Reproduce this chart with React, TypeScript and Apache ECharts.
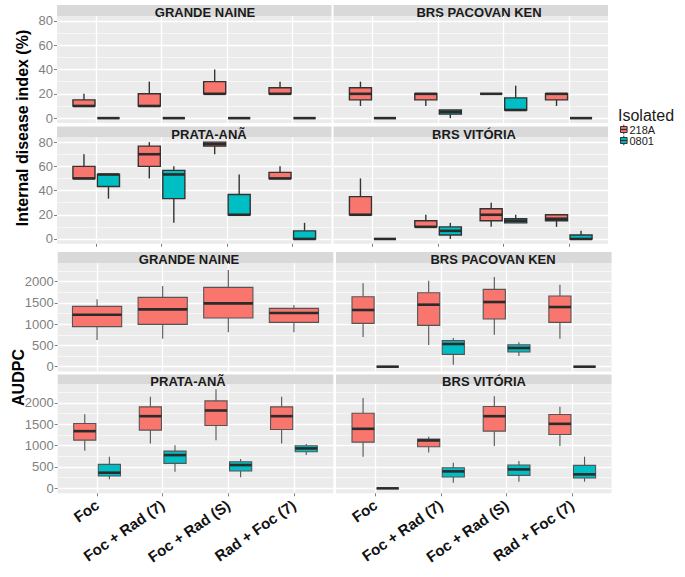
import React, { useEffect, useRef } from 'react';
import * as echarts from 'echarts';

// ---------- data ----------
const treatments = ['Foc', 'Foc + Rad (7)', 'Foc + Rad (S)', 'Rad + Foc (7)'];
const cultivars = ['GRANDE NAINE', 'BRS PACOVAN KEN', 'PRATA-ANÃ', 'BRS VITÓRIA'];
const isolates = ['218A', '0801'];
const idiTicks = [0, 20, 40, 60, 80];
const audpcTicks = [0, 500, 1000, 1500, 2000];

// Internal disease index (%): [min, Q1, median, Q3, max] per treatment
const idiGrandeNaine218A = [[10, 10, 10, 15, 20], [10, 10, 10, 20, 30], [20, 20, 20, 30, 40], [20, 20, 20, 25, 30]];
const idiGrandeNaine0801 = [[0, 0, 0, 0, 0], [0, 0, 0, 0, 0], [0, 0, 0, 0, 0], [0, 0, 0, 0, 0]];
const idiPacovan218A = [[10, 15, 20, 25, 30], [10, 15, 20, 20, 20], [20, 20, 20, 20, 20], [10, 15, 20, 20, 20]];
const idiPacovan0801 = [[0, 0, 0, 0, 0], [0, 3.3, 5, 6.7, 6.7], [6.7, 6.7, 6.7, 16.7, 26.7], [0, 0, 0, 0, 0]];
const idiPrata218A = [[50, 50, 50, 60, 70], [50, 60, 70, 76.7, 80], [70, 76.7, 78.3, 80, 80], [50, 50, 50, 55, 60]];
const idiPrata0801 = [[33.3, 43.3, 53.3, 53.3, 53.3], [13.3, 33.3, 53.3, 56.7, 60], [20, 20, 20, 36.7, 53.3], [0, 0, 0, 6.7, 13.3]];
const idiVitoria218A = [[20, 20, 20, 35, 50], [10, 10, 10, 15, 20], [10, 15, 20, 25, 30], [10, 15, 16.7, 20, 20]];
const idiVitoria0801 = [[0, 0, 0, 0, 0], [0, 3.3, 6.7, 10, 13.3], [13.3, 13.3, 15, 16.7, 20], [0, 0, 0, 3.3, 6.7]];

// AUDPC: [min, Q1, median, Q3, max] per treatment
const audpcGrandeNaine218A = [[627, 941, 1223, 1419, 1584], [659, 996, 1348, 1631, 1897], [808, 1145, 1490, 1866, 2274], [808, 1043, 1262, 1372, 1450]];
const audpcGrandeNaine0801: number[][] | null = null;
const audpcPacovan218A = [[698, 1019, 1333, 1646, 1960], [510, 972, 1458, 1740, 2023], [753, 1121, 1521, 1819, 2109], [659, 1043, 1403, 1662, 1929]];
const audpcPacovan0801 = [[0, 0, 0, 0, 0], [47, 290, 533, 612, 674], [251, 345, 439, 517, 572], [0, 0, 0, 0, 0]];
const audpcPrata218A = [[879, 1128, 1338, 1517, 1735], [1050, 1362, 1688, 1906, 2140], [1128, 1470, 1821, 2046, 2318], [1050, 1377, 1688, 1906, 2140]];
const audpcPrata0801 = [[210, 288, 366, 560, 739], [389, 584, 778, 871, 1011], [257, 405, 545, 622, 685], [778, 856, 934, 996, 1035]];
const audpcVitoria218A = [[739, 1081, 1393, 1758, 2116], [840, 972, 1120, 1151, 1206], [988, 1338, 1688, 1914, 2155], [988, 1260, 1509, 1727, 1906]];
const audpcVitoria0801 = [[0, 0, 0, 0, 0], [132, 264, 397, 482, 599], [156, 303, 443, 545, 638], [156, 241, 327, 537, 739]];

// ---------- styling / layout ----------
const FONT = '"Liberation Sans", Arial, sans-serif';
const FILLS = ['#F8766D', '#00BFC4'];
const PANEL_BG = '#EBEBEB';
const STRIP_BG = '#D9D9D9';

const idiLayout = [
  { left: 57, top: 16, width: 274.5, height: 107, stripTop: 5, stripH: 11, labelX: 205 },
  { left: 333.5, top: 16, width: 274.5, height: 107, stripTop: 5, stripH: 11, labelX: 479 },
  { left: 57, top: 137.3, width: 274.5, height: 106.5, stripTop: 126.5, stripH: 10.8, labelX: 209 },
  { left: 333.5, top: 137.3, width: 274.5, height: 106.5, stripTop: 126.5, stripH: 10.8, labelX: 474 },
];
const audpcLayout = [
  { left: 57.7, top: 263.2, width: 275.6, height: 108.4, stripTop: 252, stripH: 11.2, labelX: 189 },
  { left: 336, top: 263.2, width: 275.6, height: 108.4, stripTop: 252, stripH: 11.2, labelX: 493 },
  { left: 57.7, top: 384.3, width: 275.6, height: 109, stripTop: 374.6, stripH: 9.7, labelX: 188 },
  { left: 336, top: 384.3, width: 275.6, height: 109, stripTop: 374.6, stripH: 9.7, labelX: 484 },
];

function makeRender(fill: string, stroke: string, lw: number, medLw: number) {
  return (params: any, api: any) => {
    const x = api.value(0);
    const w = api.value(6);
    const pMin = api.coord([x, api.value(1)]);
    const pQ1 = api.coord([x, api.value(2)]);
    const pMed = api.coord([x, api.value(3)]);
    const pQ3 = api.coord([x, api.value(4)]);
    const pMax = api.coord([x, api.value(5)]);
    const half = api.size([w, 0])[0] / 2;
    const cx = pMin[0];
    const ls = { stroke, lineWidth: lw };
    return {
      type: 'group',
      children: [
        { type: 'line', shape: { x1: cx, y1: pMax[1], x2: cx, y2: pQ3[1] }, style: ls },
        { type: 'line', shape: { x1: cx, y1: pQ1[1], x2: cx, y2: pMin[1] }, style: ls },
        {
          type: 'rect',
          shape: { x: cx - half, y: pQ3[1], width: half * 2, height: pQ1[1] - pQ3[1] },
          style: { fill, stroke, lineWidth: lw },
        },
        {
          type: 'line',
          shape: { x1: cx - half, y1: pMed[1], x2: cx + half, y2: pMed[1] },
          style: { stroke: '#2b2b2b', lineWidth: medLw },
        },
      ],
    };
  };
}

function buildOption() {
  const grids: any[] = [];
  const xAxes: any[] = [];
  const yAxes: any[] = [];
  const series: any[] = [];
  const graphics: any[] = [];

  const blocks = [
    {
      data: [
        [idiGrandeNaine218A, idiGrandeNaine0801],
        [idiPacovan218A, idiPacovan0801],
        [idiPrata218A, idiPrata0801],
        [idiVitoria218A, idiVitoria0801],
      ],
      ticks: idiTicks,
      layout: idiLayout,
      xLabels: false,
      stroke: '#333333',
      lw: 1.4,
      medLw: 2.6,
    },
    {
      data: [
        [audpcGrandeNaine218A, audpcGrandeNaine0801],
        [audpcPacovan218A, audpcPacovan0801],
        [audpcPrata218A, audpcPrata0801],
        [audpcVitoria218A, audpcVitoria0801],
      ],
      ticks: audpcTicks,
      layout: audpcLayout,
      xLabels: true,
      stroke: '#555555',
      lw: 1.1,
      medLw: 2.6,
    },
  ];

  blocks.forEach((block) => {
    const allVals: number[] = [];
    block.data.forEach((pair) => pair.forEach((s) => s && s.forEach((r) => allVals.push(...r))));
    const lo = Math.min(...allVals);
    const hi = Math.max(...allVals);
    const pad = (hi - lo) * 0.05;

    block.data.forEach((pair, p) => {
      const L = block.layout[p];
      const gi = grids.length;
      const isLeft = p % 2 === 0;
      const isBottom = p >= 2;
      grids.push({
        left: L.left, top: L.top, width: L.width, height: L.height,
        show: true, backgroundColor: PANEL_BG, borderWidth: 0, containLabel: false, outerBoundsMode: 'none',
      });
      xAxes.push({
        type: 'value', gridIndex: gi, min: -0.6, max: 3.6, position: 'bottom',
        axisLine: { show: false, onZero: false },
        axisTick: {
          show: isBottom, length: 3, customValues: [0, 1, 2, 3],
          lineStyle: { color: '#7F7F7F', width: 1 },
        },
        axisLabel: {
          show: isBottom && block.xLabels, customValues: [0, 1, 2, 3],
          formatter: (v: number) => (Number.isInteger(v) && treatments[v]) || '',
          rotate: 35, margin: 10, fontSize: 15, fontWeight: 'bold', fontFamily: FONT, color: '#111111',
        },
        splitLine: { show: true, lineStyle: { color: '#FFFFFF', width: 1.3 } },
      });
      yAxes.push({
        type: 'value', gridIndex: gi, min: lo - pad, max: hi + pad, position: 'left',
        axisLine: { show: false, onZero: false },
        axisTick: {
          show: isLeft, length: 3, customValues: block.ticks,
          lineStyle: { color: '#7F7F7F', width: 1 },
        },
        axisLabel: {
          show: isLeft, customValues: block.ticks, margin: 4,
          fontSize: 13, fontFamily: FONT, color: '#7F7F7F',
          formatter: (v: number) => String(v),
        },
        splitLine: { show: true, lineStyle: { color: '#FFFFFF', width: 1.3 } },
        minorTick: { show: false, splitNumber: 2 },
        minorSplitLine: { show: true, lineStyle: { color: '#FFFFFF', width: 0.6 } },
      });

      const present = pair.filter(Boolean).length;
      pair.forEach((stats, s) => {
        if (!stats) return;
        const offset = present === 2 ? (s === 0 ? -0.1875 : 0.1875) : 0;
        const w = present === 2 ? 0.3375 : 0.75;
        series.push({
          type: 'custom',
          name: isolates[s],
          xAxisIndex: gi,
          yAxisIndex: gi,
          clip: false,
          encode: { x: 0, y: [1, 2, 3, 4, 5] },
          data: stats.map((v, i) => [i + offset, ...v, w]),
          renderItem: makeRender(FILLS[s], block.stroke, block.lw, block.medLw),
        });
      });

      graphics.push({
        type: 'rect', silent: true,
        shape: { x: L.left, y: L.stripTop, width: L.width, height: L.stripH },
        style: { fill: STRIP_BG },
      });
      graphics.push({
        type: 'text', silent: true, x: L.labelX, y: L.stripTop + L.stripH / 2 + 2.3,
        style: {
          text: cultivars[p], fontSize: 13, fontWeight: 'bold', fontFamily: FONT,
          fill: '#1A1A1A', align: 'center', verticalAlign: 'middle',
        },
      });
    });
  });

  // axis titles
  graphics.push({
    type: 'text', silent: true, x: 22.5, y: 128, rotation: Math.PI / 2,
    style: {
      text: 'Internal disease index (%)', fontSize: 16, fontWeight: 'bold', fontFamily: FONT,
      fill: '#000000', align: 'center', verticalAlign: 'middle',
    },
  });
  graphics.push({
    type: 'text', silent: true, x: 18.5, y: 377.5, rotation: Math.PI / 2,
    style: {
      text: 'AUDPC', fontSize: 16, fontWeight: 'bold', fontFamily: FONT,
      fill: '#000000', align: 'center', verticalAlign: 'middle',
    },
  });

  // legend
  graphics.push({
    type: 'text', silent: true, x: 618, y: 115.5,
    style: {
      text: 'Isolated', fontSize: 16, lineHeight: 13, fontFamily: FONT, fill: '#1A1A1A',
      align: 'left', verticalAlign: 'middle',
    },
  });
  isolates.forEach((name, i) => {
    const cy = 129.5 + i * 11;
    const cx = 623.8;
    graphics.push({ type: 'line', silent: true, shape: { x1: cx, y1: cy - 4.8, x2: cx, y2: cy + 4.8 }, style: { stroke: '#333', lineWidth: 1 } });
    graphics.push({ type: 'rect', silent: true, shape: { x: cx - 3.3, y: cy - 3, width: 6.6, height: 6 }, style: { fill: FILLS[i], stroke: '#333', lineWidth: 1 } });
    graphics.push({ type: 'line', silent: true, shape: { x1: cx - 3.3, y1: cy, x2: cx + 3.3, y2: cy }, style: { stroke: '#333', lineWidth: 1.3 } });
    graphics.push({
      type: 'text', silent: true, x: 629.5, y: cy,
      style: {
        text: name, fontSize: 11, lineHeight: 10, fontFamily: FONT, fill: '#1A1A1A',
        align: 'left', verticalAlign: 'middle',
      },
    });
  });

  return {
    animation: false,
    backgroundColor: '#FFFFFF',
    textStyle: { fontFamily: FONT },
    grid: grids,
    xAxis: xAxes,
    yAxis: yAxes,
    series,
    graphic: graphics,
  };
}

export default function App() {
  const ref = useRef<HTMLDivElement>(null);
  useEffect(() => {
    document.body.style.margin = '0';
    if (!ref.current) return;
    const chart = echarts.init(ref.current, undefined, { renderer: 'svg' });
    chart.setOption(buildOption() as any);
    return () => chart.dispose();
  }, []);
  return <div ref={ref} style={{ width: 685, height: 577 }} />;
}
